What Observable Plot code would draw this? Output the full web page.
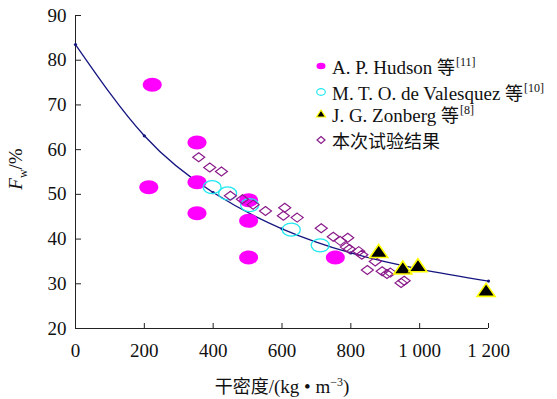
<!DOCTYPE html>
<html><head><meta charset="utf-8">
<script src="https://cdn.jsdelivr.net/npm/d3@7"></script>
<script src="https://cdn.jsdelivr.net/npm/@observablehq/plot@0.6"></script>
<style>
body{margin:0;background:#fff;}
#wrap{position:relative;width:557px;height:399px;font-family:"Liberation Serif","Times New Roman","Noto Sans CJK SC",serif;color:#111;}
#wrap svg{position:absolute;left:0;top:0;}
.lg{position:absolute;left:332px;font-size:19px;line-height:24px;height:24px;white-space:nowrap;}
.lg sup{font-size:12px;vertical-align:top;position:relative;top:-4px;margin-left:1px;}
.cjk{font-family:"Noto Sans CJK SC";font-size:18px;}
.mk{position:absolute;left:314px;width:14px;height:14px;}
#ylab{position:absolute;left:18px;top:169px;transform:translate(-50%,-50%) rotate(-90deg);font-size:19px;white-space:nowrap;}
#ylab sub{font-size:12px;}
#xlab{position:absolute;left:282px;top:385px;transform:translate(-50%,-50%);font-size:19px;white-space:nowrap;}
#xlab sup{font-size:12px;}
</style></head><body><div id="wrap"></div>
<script>
// Data
const hudsonX = [223, 213, 353, 353, 353, 503, 503, 503, 755];
const hudsonY = [74.5, 51.6, 61.6, 52.7, 45.8, 48.7, 44.1, 35.9, 35.9];
const valesX = [397, 442, 506, 627, 711];
const valesY = [51.6, 50.2, 47.6, 42.1, 38.6];
const zonX = [881, 951, 995, 1193];
const zonY = [37.2, 33.5, 34.0, 28.5];
const testX = [358, 390, 424, 450, 485, 516, 552, 608, 604, 644, 714, 749, 769, 791, 787, 796, 823, 832, 871, 848, 891, 905, 915, 955, 946];
const testY = [58.3, 56.0, 55.1, 49.7, 48.9, 47.7, 46.3, 47.0, 45.2, 44.8, 42.4, 40.5, 39.6, 40.3, 38.2, 37.8, 37.3, 36.5, 35.0, 33.1, 32.8, 32.2, 32.5, 30.7, 30.2];
const fitX = [0, 200, 400, 600, 800, 1000, 1200];
const fitY = [83.5, 63.1, 50.4, 42.3, 36.9, 33.3, 30.6];
const xTicks = [0, 200, 400, 600, 800, 1000, 1200];
const yTicks = [20, 30, 40, 50, 60, 70, 80, 90];
const seriesNames = ["A. P. Hudson 等", "M. T. O. de Valesquez 等", "J. G. Zonberg 等", "本次试验结果"];
const seriesRefs = ["[11]", "[10]", "[8]", ""];

const pts = (X, Y) => X.map((x, i) => ({x, y: Y[i]}));

// custom symbols
function ellipseSym(rx, ry) {
  const k = 0.5523;
  return {draw(c) {
    c.moveTo(rx, 0);
    c.bezierCurveTo(rx, ry * k, rx * k, ry, 0, ry);
    c.bezierCurveTo(-rx * k, ry, -rx, ry * k, -rx, 0);
    c.bezierCurveTo(-rx, -ry * k, -rx * k, -ry, 0, -ry);
    c.bezierCurveTo(rx * k, -ry, rx, -ry * k, rx, 0);
    c.closePath();
  }};
}
function triSym(w, h) {
  return {draw(c) {
    c.moveTo(0, -h * 0.55); c.lineTo(w / 2, h * 0.45); c.lineTo(-w / 2, h * 0.45); c.closePath();
  }};
}
function diaSym(w, h) {
  return {draw(c) {
    c.moveTo(0, -h / 2); c.lineTo(w / 2, 0); c.lineTo(0, h / 2); c.lineTo(-w / 2, 0); c.closePath();
  }};
}

const MAG = "#ff00ff", CYAN = "#22e8f0", PURP = "#8a1a8a", NAVY = "#141480", YEL = "#ffff00";
const fmt = d => d3.format(",")(d).replace(/,/g, " ");

const plot = Plot.plot({
  width: 557, height: 399,
  marginLeft: 75, marginRight: 69, marginTop: 15, marginBottom: 71,
  x: {domain: [0, 1200]},
  y: {domain: [20, 90]},
  style: {fontFamily: '"Liberation Serif","Times New Roman",serif', fontSize: "19px", color: "#111", background: "transparent", overflow: "visible"},
  marks: [
    Plot.axisX(xTicks, {tickSize: -5, tickPadding: 20, tickFormat: fmt, label: null, stroke: "#222"}),
    Plot.axisY(yTicks, {tickSize: -6, tickPadding: 15, label: null, stroke: "#222"}),
    Plot.ruleX([0], {stroke: "#222"}),
    Plot.ruleY([20], {stroke: "#222"}),
    Plot.line(pts(fitX, fitY), {x: "x", y: "y", curve: "natural", stroke: NAVY, strokeWidth: 1.3}),
    Plot.dot(pts(fitX, fitY), {x: "x", y: "y", r: 1.6, fill: NAVY}),
    Plot.dot(pts(hudsonX, hudsonY), {x: "x", y: "y", symbol: ellipseSym(9.5, 7), fill: MAG, stroke: "none"}),
    Plot.dot(pts(valesX, valesY), {x: "x", y: "y", symbol: ellipseSym(9, 6.5), fill: "none", stroke: CYAN, strokeWidth: 1.3}),
    Plot.dot(pts(testX, testY), {x: "x", y: "y", symbol: diaSym(12, 9), fill: "none", stroke: PURP, strokeWidth: 1.2}),
    Plot.dot(pts(zonX, zonY), {x: "x", y: "y", symbol: triSym(18, 13), fill: "#000", stroke: YEL, strokeWidth: 1.6, strokeLinejoin: "miter"})
  ]
});

const wrap = document.getElementById("wrap");
wrap.appendChild(plot);

// legend
const rowsY = [66, 91.5, 114, 139.5];
const markers = [
  `<ellipse cx="7" cy="7" rx="4.5" ry="3.2" fill="${MAG}"/>`,
  `<ellipse cx="7" cy="7" rx="4.3" ry="3.3" fill="none" stroke="${CYAN}" stroke-width="1.2"/>`,
  `<path d="M7,3 L11.5,10 L2.5,10 Z" fill="#000" stroke="${YEL}" stroke-width="1.2"/>`,
  `<path d="M7,3.5 L11,7 L7,10.5 L3,7 Z" fill="none" stroke="${PURP}" stroke-width="1.2"/>`
];
seriesNames.forEach((name, i) => {
  const m = document.createElement("div");
  m.className = "mk"; m.style.top = (rowsY[i] - 7) + "px";
  m.innerHTML = `<svg width="14" height="14">${markers[i]}</svg>`;
  wrap.appendChild(m);
  const t = document.createElement("div");
  t.className = "lg"; t.style.top = (rowsY[i] - 12) + "px";
  const html = name.replace(/([\u4e00-\u9fff]+)/g, '<span class="cjk">$1</span>');
  t.innerHTML = html + (seriesRefs[i] ? `<sup>${seriesRefs[i]}</sup>` : "");
  wrap.appendChild(t);
});

const yl = document.createElement("div");
yl.id = "ylab";
yl.innerHTML = `<i>F</i><sub>w</sub>/%`;
wrap.appendChild(yl);
const xl = document.createElement("div");
xl.id = "xlab";
xl.innerHTML = `<span class="cjk">干密度</span>/(kg • m<sup>−3</sup>)`;
wrap.appendChild(xl);
</script></body></html>
